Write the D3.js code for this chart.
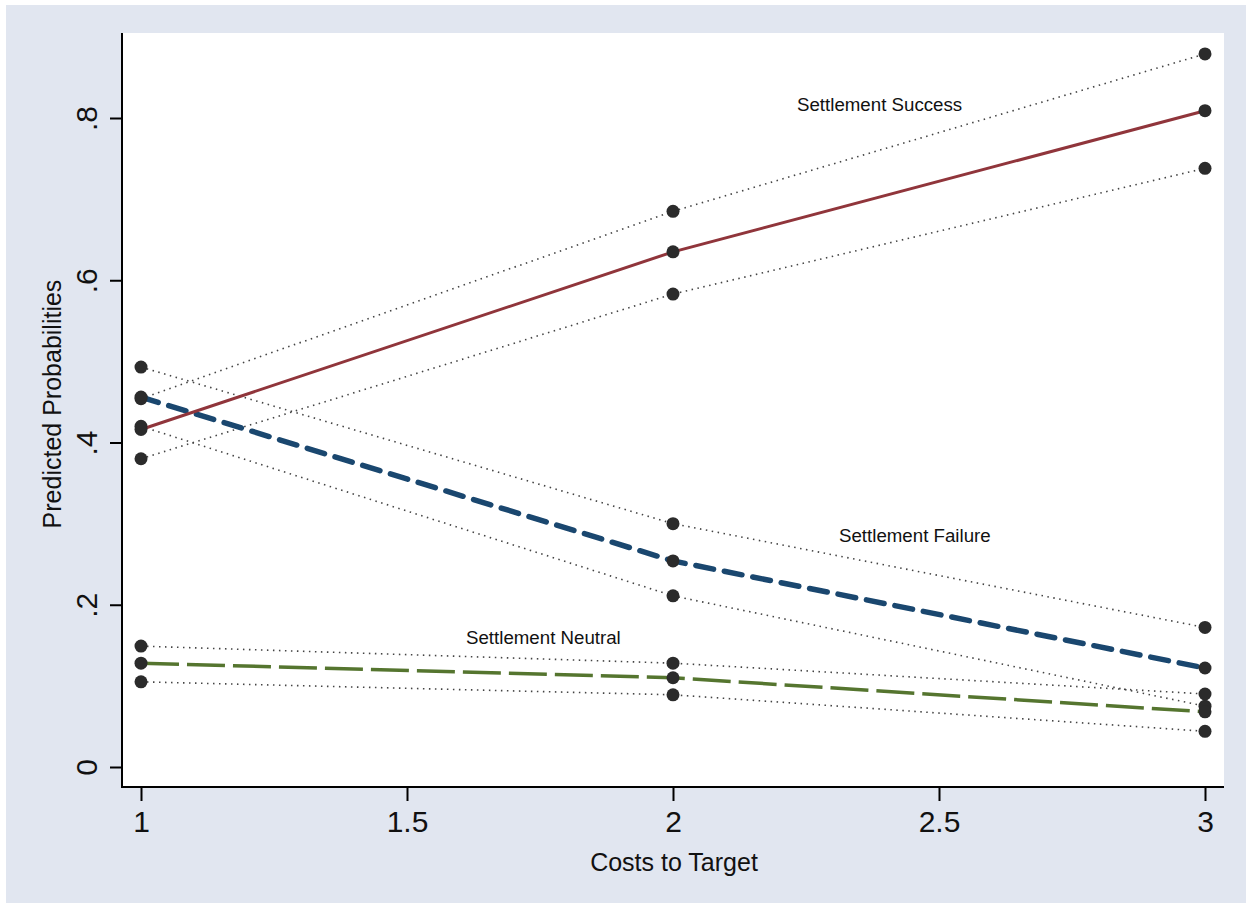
<!DOCTYPE html>
<html>
<head>
    <meta charset="utf-8" />
    <title>Predicted Probabilities</title>
    <script src="https://d3js.org/d3.v7.min.js"></script>
    <style>
        body { margin: 0; background: #ffffff; }
        text { font-family: Arial, "Liberation Sans", sans-serif; fill: #111; }
    </style>
</head>
<body>
<svg width="1252" height="907"></svg>

<script>
    // Data
    var costs = [1, 2, 3];
    var successMean = [0.416, 0.635, 0.809];
    var successLow = [0.380, 0.583, 0.738];
    var successHigh = [0.454, 0.685, 0.879];
    var failureMean = [0.456, 0.254, 0.122];
    var failureLow = [0.420, 0.211, 0.075];
    var failureHigh = [0.493, 0.300, 0.172];
    var neutralMean = [0.128, 0.110, 0.068];
    var neutralLow = [0.105, 0.089, 0.044];
    var neutralHigh = [0.149, 0.128, 0.090];
    var xTicks = [1, 1.5, 2, 2.5, 3];
    var yTicks = [0, 0.2, 0.4, 0.6, 0.8];

    var svg = d3.select("svg");

    // outer graph region (Stata-style)
    svg.append("rect")
        .attr("x", 6).attr("y", 5)
        .attr("width", 1240).attr("height", 898)
        .attr("fill", "#e1e6f0");

    // plot region
    var plot = { left: 122, top: 33, right: 1224, bottom: 787 };
    svg.append("rect")
        .attr("x", plot.left).attr("y", plot.top)
        .attr("width", plot.right - plot.left)
        .attr("height", plot.bottom - plot.top)
        .attr("fill", "#ffffff");

    // scales
    var x = d3.scaleLinear().domain([1, 3]).range([141, 1205]);
    var y = d3.scaleLinear().domain([0, 0.8]).range([767, 118]);

    function pts(vals) {
        return costs.map(function (c, i) { return [c, vals[i]]; });
    }

    var line = d3.line()
        .x(function (d) { return x(d[0]); })
        .y(function (d) { return y(d[1]); });

    // confidence bounds (dotted)
    [successLow, successHigh, failureLow, failureHigh, neutralLow, neutralHigh].forEach(function (s) {
        svg.append("path")
            .attr("d", line(pts(s)))
            .attr("fill", "none")
            .attr("stroke", "#444")
            .attr("stroke-width", 1.6)
            .attr("stroke-dasharray", "1.5,4.5");
    });

    // predicted lines
    svg.append("path")
        .attr("d", line(pts(neutralMean)))
        .attr("fill", "none")
        .attr("stroke", "#55752f")
        .attr("stroke-width", 3.5)
        .attr("stroke-dasharray", "38,8");

    svg.append("path")
        .attr("d", line(pts(failureMean)))
        .attr("fill", "none")
        .attr("stroke", "#1a476f")
        .attr("stroke-width", 5.5)
        .attr("stroke-linecap", "round")
        .attr("stroke-dasharray", "18,11");

    svg.append("path")
        .attr("d", line(pts(successMean)))
        .attr("fill", "none")
        .attr("stroke", "#90353b")
        .attr("stroke-width", 3);

    // markers
    var allSeries = [successLow, successHigh, failureLow, failureHigh, neutralLow, neutralHigh,
        successMean, failureMean, neutralMean];
    allSeries.forEach(function (s) {
        svg.selectAll(null)
            .data(pts(s))
            .enter()
            .append("circle")
            .attr("cx", function (d) { return x(d[0]); })
            .attr("cy", function (d) { return y(d[1]); })
            .attr("r", 6.5)
            .attr("fill", "#2b2b2b");
    });

    // axes
    var xAxis = svg.append("g")
        .attr("transform", "translate(0," + plot.bottom + ")")
        .call(d3.axisBottom(x).tickValues(xTicks).tickSize(14).tickPadding(10)
            .tickFormat(function (d) { return d3.format("")(d); }));
    xAxis.select(".domain").remove();
    xAxis.selectAll(".tick line").attr("stroke", "#000").attr("stroke-width", 2);
    xAxis.selectAll(".tick text")
        .style("font-size", "30px")
        .style("font-family", "Arial, 'Liberation Sans', sans-serif")
        .attr("fill", "#111");

    var yAxis = svg.append("g")
        .attr("transform", "translate(" + plot.left + ",0)")
        .call(d3.axisLeft(y).tickValues(yTicks).tickSize(12)
            .tickFormat(function (d) { return d === 0 ? "0" : d3.format(".1f")(d).replace(/^0/, ""); }));
    yAxis.select(".domain").remove();
    yAxis.selectAll(".tick line").attr("stroke", "#000").attr("stroke-width", 2);
    yAxis.selectAll(".tick text")
        .attr("x", 0).attr("dy", 0)
        .attr("transform", "translate(-25,0) rotate(-90)")
        .attr("text-anchor", "middle")
        .style("font-size", "30px")
        .style("font-family", "Arial, 'Liberation Sans', sans-serif")
        .attr("fill", "#111");

    svg.append("line")
        .attr("x1", plot.left).attr("x2", plot.left)
        .attr("y1", plot.top).attr("y2", plot.bottom + 1)
        .attr("stroke", "#000").attr("stroke-width", 2);
    svg.append("line")
        .attr("x1", plot.left - 1).attr("x2", plot.right)
        .attr("y1", plot.bottom).attr("y2", plot.bottom)
        .attr("stroke", "#000").attr("stroke-width", 2);

    // axis titles
    svg.append("text")
        .attr("x", 674).attr("y", 871)
        .attr("text-anchor", "middle")
        .style("font-size", "25px")
        .text("Costs to Target");

    svg.append("text")
        .attr("transform", "translate(61,404) rotate(-90)")
        .attr("text-anchor", "middle")
        .style("font-size", "25px")
        .text("Predicted Probabilities");

    // curve labels
    svg.append("text").attr("x", 797).attr("y", 111).style("font-size", "18.7px").text("Settlement Success");
    svg.append("text").attr("x", 839).attr("y", 542).style("font-size", "18.7px").text("Settlement Failure");
    svg.append("text").attr("x", 466).attr("y", 644).style("font-size", "18.7px").text("Settlement Neutral");
</script>
</body>
</html>
